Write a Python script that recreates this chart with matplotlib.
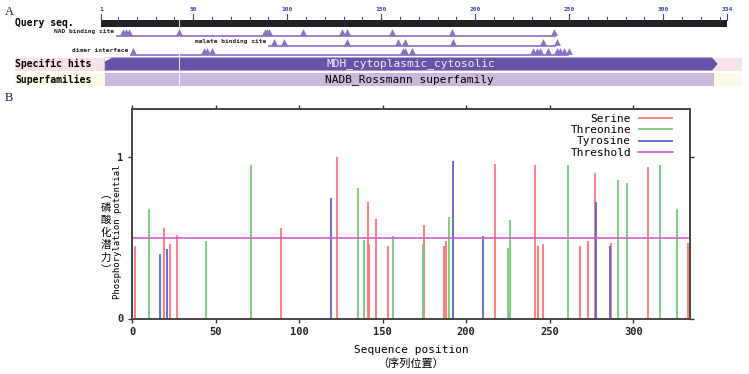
import matplotlib
matplotlib.use("Agg")
import matplotlib.pyplot as plt
from matplotlib.patches import Polygon, Rectangle

# ---- panel B data ----
serine_pos = [2, 19, 23, 27, 89, 123, 141, 142, 146, 153, 175, 187, 188, 217,
              241, 243, 246, 268, 273, 277, 287, 309, 333]
serine_val = [0.45, 0.56, 0.46, 0.52, 0.56, 1.00, 0.72, 0.46, 0.62, 0.45, 0.58,
              0.45, 0.48, 0.96, 0.95, 0.45, 0.46, 0.45, 0.48, 0.90, 0.47, 0.94, 0.47]
threonine_pos = [10, 44, 71, 135, 139, 156, 174, 190, 225, 226, 261, 291, 296, 316, 326]
threonine_val = [0.68, 0.48, 0.95, 0.81, 0.49, 0.51, 0.46, 0.63, 0.44, 0.61, 0.95,
                 0.86, 0.84, 0.95, 0.68]
tyrosine_pos = [17, 21, 119, 192, 210, 278, 286]
tyrosine_val = [0.40, 0.43, 0.75, 0.98, 0.51, 0.72, 0.45]
threshold = 0.5
seq_len = 334

# ---- panel A data ----
ruler_labels = [1, 50, 100, 150, 200, 250, 300, 334]
nad_sites = [12.5, 14.2, 16, 42.5, 88, 89.2, 90.5, 108.6, 129, 131.7, 155.6, 187.9, 242]
malate_sites = [93, 98.3, 131.7, 158.8, 162.9, 188, 236, 243.6]
dimer_sites = [18, 55.8, 57.5, 60, 161.7, 162.9, 166.5, 231, 232.8, 234.5, 239,
               243.6, 245.4, 247.1, 250]
feature_rows = [("NAD binding site", 9, 243, nad_sites),
                ("malate binding site", 90, 243, malate_sites),
                ("dimer interface", 16.5, 250, dimer_sites)]
specific_hit = ("MDH_cytoplasmic_cytosolic", 3, 329)
superfamily = ("NADB_Rossmann superfamily", 3, 327)

mono = "DejaVu Sans Mono"
cjk = ["Noto Sans CJK SC", "DejaVu Sans"]

fig = plt.figure(figsize=(7.49, 3.74), dpi=100)
W, H = 749, 374

# ================= Panel A =================
scale = 1.88          # pixels per residue
x_at_px0 = 1 - 101 / scale
axA = fig.add_axes([0, 1 - 90 / H, 1, 90 / H])
axA.set_xlim(x_at_px0, x_at_px0 + W / scale)
axA.set_ylim(90, 0)
axA.axis("off")

def px(p):
    return x_at_px0 + p / scale

fig.text(5 / W, 1 - 12 / H, "A", family="Liberation Serif", fontsize=9,
         color="#1a1a50", va="center")

# ruler
axA.add_patch(Rectangle((1, 19.5), seq_len - 1, 7, color="#222222", lw=0))
for t in range(10, seq_len, 10):
    axA.plot([t, t], [16.5, 19.5], color="#3344aa", lw=0.8)
for t in ruler_labels:
    axA.plot([t, t], [13.5, 19.5], color="#3344aa", lw=0.8)
    axA.text(t, 9.5, str(t), color="#3344aa", fontsize=4.5, family=mono,
             fontweight="bold", ha="center", va="center")
axA.text(px(15), 23, "Query seq.", family=mono, fontweight="bold", fontsize=7,
         va="center", ha="left")

row_y = [35.5, 45.5, 54.5]
for (name, start, end, sites), y in zip(feature_rows, row_y):
    axA.plot([start, end], [y, y], color="#9a82cc", lw=1.4, solid_capstyle="butt")
    axA.scatter(sites, [y - 3.2] * len(sites), marker="^", s=24, color="#8a72c2",
                lw=0, zorder=3)
    axA.text(start - 1, y - 3.5, name, family=mono, fontweight="bold", fontsize=4.5,
             ha="right", va="center", color="#222222")

# specific hits row
axA.add_patch(Rectangle((px(15), 57.5), px(742) - px(15), 13, color="#f8e2ea", lw=0))
name, s0, s1 = specific_hit
axA.add_patch(Polygon([(s0, 57.5), (s1 - 3, 57.5), (s1, 64), (s1 - 3, 70.5), (s0, 70.5)],
                      closed=True, color="#6852a8", lw=0))
axA.add_patch(Polygon([(s0, 57.5), (s0 + 4, 57.5), (s0, 61.5)], closed=True,
                      color="white", lw=0))
axA.text((s0 + s1) / 2, 64, name, family=mono, fontsize=8, color="#f4eeff",
         ha="center", va="center")
axA.text(px(15), 64, "Specific hits", family=mono, fontweight="bold", fontsize=7,
         ha="left", va="center")

# superfamily row
axA.add_patch(Rectangle((px(15), 72.5), px(742) - px(15), 13.5, color="#fafae6", lw=0))
name, s0, s1 = superfamily
axA.add_patch(Rectangle((s0, 72.5), s1 - s0, 13.5, color="#cbb8de", lw=0))
axA.text((s0 + s1) / 2, 79.5, name, family=mono, fontsize=8, color="black",
         ha="center", va="center")
axA.text(px(15), 79.5, "Superfamilies", family=mono, fontweight="bold", fontsize=7,
         ha="left", va="center")

axA.plot([42.5, 42.5], [19, 86], color="white", lw=0.8, alpha=0.8)

# ================= Panel B =================
fig.text(5 / W, 1 - 98 / H, "B", family="Liberation Serif", fontsize=9,
         color="#1a1a50", va="center")

left, right, top, bottom = 132, 690, 109, 318.5
axB = fig.add_axes([left / W, 1 - bottom / H, (right - left) / W, (bottom - top) / H])
axB.vlines(serine_pos, 0, serine_val, color="#ff7373", lw=1.3, label="Serine")
axB.vlines(threonine_pos, 0, threonine_val, color="#74cc74", lw=1.3, label="Threonine")
axB.vlines(tyrosine_pos, 0, tyrosine_val, color="#5a66cc", lw=1.3, label="Tyrosine")
axB.axhline(threshold, color="#cc60cc", lw=1.2, label="Threshold")

axB.set_xlim(0, seq_len)
axB.set_ylim(0, 1.3)
axB.set_xticks(range(0, 301, 50))
axB.set_yticks([0, 1])
axB.tick_params(direction="out", length=3, width=1, labelsize=7.5, pad=3,
                top=True, right=True, colors="#333333")
for lab in axB.get_xticklabels() + axB.get_yticklabels():
    lab.set_family(mono)
    lab.set_fontweight("bold")
    lab.set_color("#222222")
for sp in axB.spines.values():
    sp.set_linewidth(1.4)
    sp.set_color("#444444")

leg = axB.legend(loc="upper right", bbox_to_anchor=(0.985, 1.015), frameon=False,
                 markerfirst=False, handlelength=3.2, handletextpad=0.6,
                 labelspacing=0.1, borderpad=0.25, prop={"family": mono, "size": 8})
for txt in leg.get_texts():
    txt.set_ha("right")

fig.text((left + right) / 2 / W, 1 - 350 / H, "Sequence position", family=mono,
         fontsize=8, ha="center", va="center")
fig.text((left + right) / 2 / W, 1 - 364 / H, "（序列位置）", family=cjk,
         fontsize=8, ha="center", va="center")
fig.text(118 / W, 1 - 232 / H, "Phosphorylation potential", family=mono,
         fontsize=6.5, rotation=90, ha="center", va="center")
for i, ch in enumerate("︵磷酸化潜力︶"):
    fig.text(106 / W, 1 - (195 + 12.5 * i) / H, ch, family=cjk,
             fontsize=7.5, ha="center", va="center")

fig.savefig("out.png", dpi=100)
